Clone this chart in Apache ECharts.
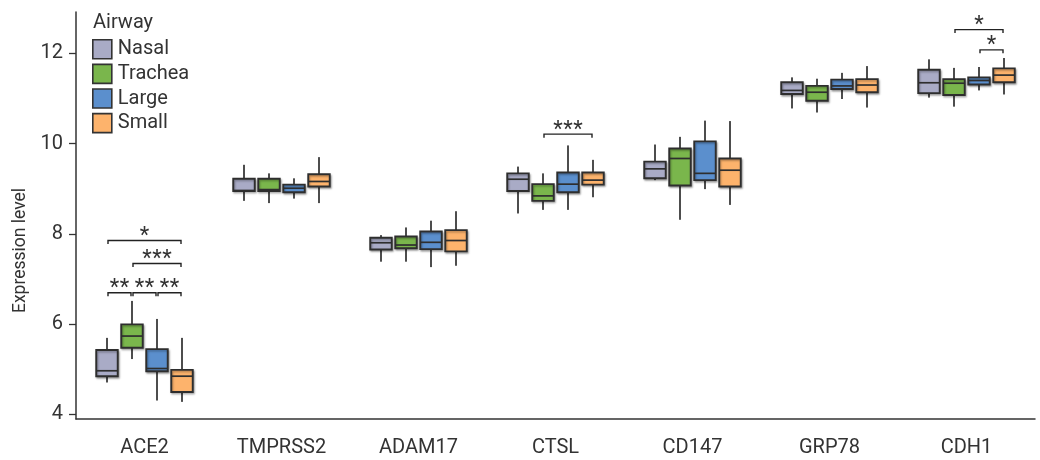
<!DOCTYPE html>
<html>
<head>
<meta charset="utf-8">
<script src="https://cdn.jsdelivr.net/npm/echarts@6/dist/echarts.min.js"></script>
<style>html,body{margin:0;padding:0;background:#fff}#c{width:1040px;height:460px}</style>
</head>
<body>
<div id="c"></div>
<script>
const categories = ['ACE2', 'TMPRSS2', 'ADAM17', 'CTSL', 'CD147', 'GRP78', 'CDH1'];
const groups = ['Nasal', 'Trachea', 'Large', 'Small'];
const yTicks = [4, 6, 8, 10, 12];

// [min, q1, median, q3, max] per category
const nasal = [
  [4.70, 4.84, 4.96, 5.42, 5.69],
  [8.73, 8.95, 8.96, 9.22, 9.53],
  [7.38, 7.65, 7.80, 7.91, 7.97],
  [8.45, 8.95, 9.21, 9.34, 9.49],
  [9.19, 9.23, 9.44, 9.60, 9.98],
  [10.78, 11.10, 11.18, 11.36, 11.47],
  [11.02, 11.12, 11.35, 11.64, 11.87]
];
const trachea = [
  [5.22, 5.47, 5.73, 5.99, 6.51],
  [8.68, 8.95, 8.98, 9.22, 9.34],
  [7.38, 7.68, 7.75, 7.94, 8.14],
  [8.53, 8.73, 8.84, 9.10, 9.34],
  [8.31, 9.07, 9.67, 9.89, 10.15],
  [10.69, 10.95, 11.14, 11.28, 11.44],
  [10.82, 11.08, 11.34, 11.43, 11.68]
];
const large = [
  [4.30, 4.95, 5.01, 5.44, 6.11],
  [8.78, 8.92, 9.01, 9.09, 9.23],
  [7.26, 7.66, 7.81, 8.05, 8.29],
  [8.53, 8.92, 9.10, 9.36, 9.96],
  [8.99, 9.19, 9.34, 10.05, 10.51],
  [10.99, 11.21, 11.28, 11.42, 11.57],
  [11.18, 11.31, 11.40, 11.47, 11.70]
];
const small = [
  [4.27, 4.49, 4.84, 4.98, 5.69],
  [8.68, 9.05, 9.16, 9.32, 9.70],
  [7.29, 7.61, 7.85, 8.08, 8.50],
  [8.81, 9.09, 9.19, 9.36, 9.64],
  [8.64, 9.05, 9.41, 9.67, 10.50],
  [10.80, 11.14, 11.30, 11.43, 11.72],
  [11.09, 11.36, 11.52, 11.67, 11.90]
];

// significance brackets
const sigCategory = [0, 0, 0, 0, 0, 3, 6, 6];
const sigFrom     = [0, 1, 0, 1, 2, 1, 1, 2];
const sigTo       = [3, 3, 1, 2, 3, 3, 3, 3];
const sigLevel    = [7.85, 7.34, 6.69, 6.69, 6.69, 10.21, 12.53, 12.08];
const sigLabel    = ['*', '***', '**', '**', '**', '***', '*', '*'];

const colors = ['#a9abc6', '#7ab64c', '#5b8fcd', '#fdb36c'];
const FONT = 'Roboto';
const seriesValues = [nasal, trachea, large, small];

const SLOT = 0.1825;   // box spacing as fraction of band
const BOXW = 0.157;    // box width as fraction of band

function renderBox(params, api) {
  const s = params.seriesIndex;
  const cat = api.value(0);
  const band = api.size([1, 0])[0];
  const cx = api.coord([cat, 0])[0] + (s - 1.5) * SLOT * band;
  const w = BOXW * band;
  const yMin = api.coord([cat, api.value(1)])[1];
  const yQ1 = api.coord([cat, api.value(2)])[1];
  const yMed = api.coord([cat, api.value(3)])[1];
  const yQ3 = api.coord([cat, api.value(4)])[1];
  const yMax = api.coord([cat, api.value(5)])[1];
  const wStyle = { stroke: '#4d4d4d', lineWidth: 2 };
  return {
    type: 'group',
    children: [
      { type: 'line', shape: { x1: cx, y1: yQ1, x2: cx, y2: yMin }, style: wStyle },
      { type: 'line', shape: { x1: cx, y1: yQ3, x2: cx, y2: yMax }, style: wStyle },
      { type: 'rect', shape: { x: cx - w / 2, y: yQ3, width: w, height: yQ1 - yQ3 },
        style: { fill: colors[s], stroke: '#2e2e2e', lineWidth: 1.9,
                 shadowColor: 'rgba(0,0,0,0.3)', shadowBlur: 2, shadowOffsetX: 1, shadowOffsetY: 1.5 } },
      { type: 'line', shape: { x1: cx - w / 2, y1: yMed, x2: cx + w / 2, y2: yMed },
        style: { stroke: '#2e2e2e', lineWidth: 1.7 } }
    ]
  };
}

function renderSig(params, api) {
  const i = params.dataIndex;
  const cat = api.value(0);
  const band = api.size([1, 0])[0];
  const base = api.coord([cat, api.value(3)]);
  const x1 = base[0] + (api.value(1) - 1.5) * SLOT * band + 1;
  const x2 = base[0] + (api.value(2) - 1.5) * SLOT * band - 1;
  const y = base[1];
  const chars = sigLabel[i].split('');
  const pitch = 10;
  const mid = (x1 + x2) / 2;
  const children = [
    { type: 'polyline', shape: { points: [[x1, y + 3.5], [x1, y], [x2, y], [x2, y + 3.5]] },
      style: { stroke: '#222', lineWidth: 1.4, fill: null } }
  ];
  chars.forEach((ch, k) => {
    children.push({ type: 'text', x: mid + (k - (chars.length - 1) / 2) * pitch, y: y - 4,
      style: { text: ch, fill: '#333', font: '22px ' + FONT, align: 'center', verticalAlign: 'middle' } });
  });
  return { type: 'group', children: children };
}

const series = groups.map((g, s) => ({
  name: g,
  type: 'custom',
  renderItem: renderBox,
  itemStyle: { color: colors[s], borderColor: '#333', borderWidth: 1.5 },
  encode: { x: 0, y: [1, 2, 3, 4, 5] },
  data: seriesValues[s].map((v, i) => [i].concat(v)),
  z: 2
}));
series.push({
  name: 'sig',
  type: 'custom',
  renderItem: renderSig,
  encode: { x: 0, y: 3 },
  data: sigCategory.map((c, i) => [c, sigFrom[i], sigTo[i], sigLevel[i]]),
  z: 3,
  silent: true
});

const chart = echarts.init(document.getElementById('c'), null, { renderer: 'canvas' });
chart.setOption({
  animation: false,
  backgroundColor: '#fff',
  title: {
    text: 'Airway', left: 88, top: 8,
    textStyle: { fontFamily: FONT, fontSize: 20, fontWeight: 'normal', color: '#333' }
  },
  legend: {
    data: groups, orient: 'vertical', left: 92, top: 39, padding: 0,
    icon: 'rect', itemWidth: 19, itemHeight: 19, itemGap: 4,
    itemStyle: { borderColor: '#333', borderWidth: 1.6 },
    textStyle: { fontFamily: FONT, fontSize: 20, color: '#333', lineHeight: 19, padding: [0, 0, 0, 1] }
  },
  grid: { left: 76, right: 5, top: 12, bottom: 41, containLabel: false },
  xAxis: {
    type: 'category', data: categories,
    axisLine: { lineStyle: { color: '#333', width: 1.5 } },
    axisTick: { alignWithLabel: true, length: 7, lineStyle: { color: '#333', width: 1.3 } },
    axisLabel: { fontFamily: FONT, fontSize: 20, color: '#333', margin: 19 },
    splitLine: { show: false }
  },
  yAxis: {
    type: 'value', min: 3.89, max: 12.92,
    name: 'Expression level', nameLocation: 'middle', nameGap: 43,
    nameTextStyle: { fontFamily: FONT, fontSize: 17.5, color: '#333', padding: [0, 70, 0, 0] },
    axisLine: { show: true, lineStyle: { color: '#333', width: 1.5 } },
    axisTick: { show: true, length: 7, customValues: yTicks, lineStyle: { color: '#333', width: 1.3 } },
    axisLabel: { fontFamily: FONT, fontSize: 20, color: '#333', margin: 13, customValues: yTicks },
    splitLine: { show: false }
  },
  series: series
});
</script>
</body>
</html>
